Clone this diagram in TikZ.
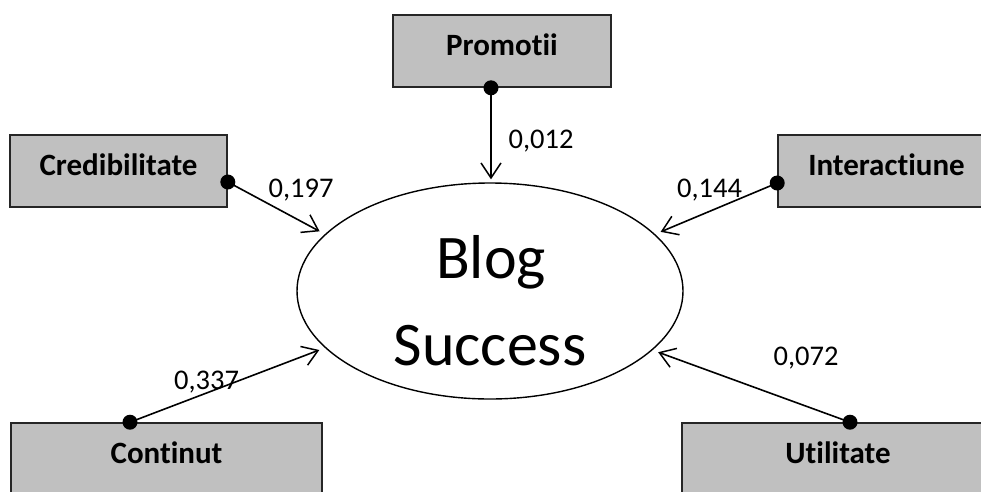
\documentclass[tikz,border=0pt]{standalone}
\usepackage{fontspec}
\setmainfont{Carlito}[Ligatures={NoCommon,NoRare,NoContextual}]
\usetikzlibrary{arrows.meta,calc,shapes.geometric}

\definecolor{boxgray}{HTML}{C0C0C0}
\definecolor{edgegray}{HTML}{262626}

\tikzset{
  factor/.style={draw=edgegray, line width=1.6pt, fill=boxgray, rectangle,
    minimum height=72pt, inner sep=0pt, text height=20pt, text depth=12pt,
    font=\fontsize{31pt}{36pt}\selectfont\bfseries},
  outcome/.style={draw, line width=1.4pt, ellipse, minimum width=386pt,
    minimum height=216pt, inner sep=0pt},
  bigtext/.style={anchor=base, inner sep=0pt, font=\fontsize{62pt}{87pt}\selectfont},
  weight/.style={anchor=base, inner sep=0pt, font=\fontsize{28.5pt}{34pt}\selectfont},
  conn/.style={line width=1.6pt, -{Straight Barb[length=15pt, width=20pt, line width=1.5pt]},
    shorten >=6pt},
  dotmark/.style={fill=black}
}

\begin{document}
\begin{tikzpicture}[x=1pt, y=-1pt]
  \useasboundingbox (0,0) rectangle (981,491);
  \clip (0,0) rectangle (981,491);

  % central construct
  \node[outcome] (blog) at (490,291) {};
  \node[bigtext] (blogword) at (491,278) {Blog};
  \node[bigtext] (succword) at (490,365) {Success};

  % predictor boxes
  \node[factor, minimum width=218pt] (promo) at (502,51)    {Promotii};
  \node[factor, minimum width=217pt] (cred)  at (118.5,171) {Credibilitate};
  \node[factor, minimum width=217pt] (inter) at (886.5,171) {Interactiune};
  \node[factor, minimum width=311pt] (cont)  at (166.5,459) {Continut};
  \node[factor, minimum width=312pt] (util)  at (838,459)   {Utilitate};

  % start points of the paths
  \coordinate (pd) at ($(promo.south)+(-11,0)$);
  \coordinate (cd) at ($(cred.east)+(0,11)$);
  \coordinate (id) at ($(inter.west)+(0,12)$);
  \coordinate (nd) at ($(cont.north)+(-36.5,0)$);
  \coordinate (ud) at ($(util.north)+(12,0)$);

  % paths
  \draw[conn, shorten >=3pt] (pd) -- (pd |- blog.north);
  \draw[conn] (cd) -- (blog.161);
  \draw[conn] (id) -- (blog.19.6);
  \draw[conn] (nd) -- (blog.199.8);
  \draw[conn] (ud) -- (blog.340.2);

  \fill[dotmark] (pd) circle (7.5);
  \fill[dotmark] (cd) circle (7.5);
  \fill[dotmark] (id) circle (7.5);
  \fill[dotmark] (nd) circle (7.5);
  \fill[dotmark] (ud) circle (7.5);

  % path coefficients
  \node[weight] (wp) at (541,148) {0,012};
  \node[weight] (wc) at (301,197) {0,197};
  \node[weight] (wi) at (709.5,197) {0,144};
  \node[weight] (wn) at (206.5,389) {0,337};
  \node[weight] (wu) at (806,365) {0,072};
\end{tikzpicture}
\end{document}
